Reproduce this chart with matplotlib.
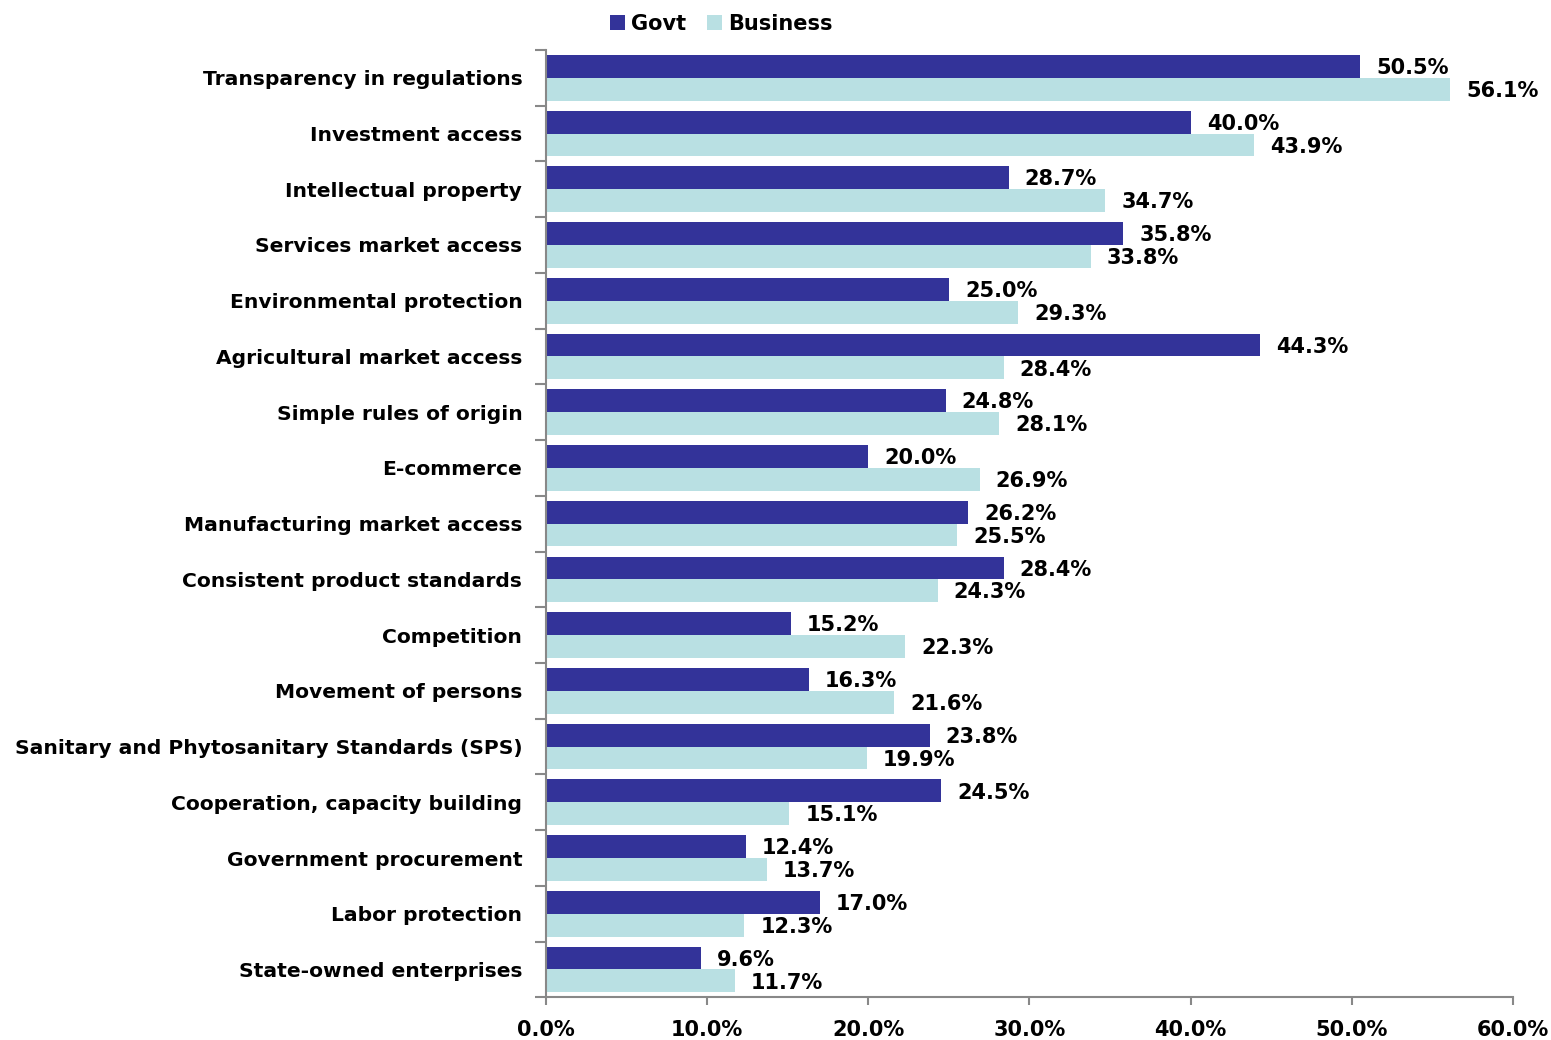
import numpy as np
import matplotlib.pyplot as plt
from matplotlib.ticker import FuncFormatter, FixedLocator

plt.rcParams['font.family'] = ['DejaVu Sans']
plt.rcParams['font.weight'] = 'bold'

categories = ["Transparency in regulations", "Investment access", "Intellectual property",
              "Services market access", "Environmental protection", "Agricultural market access",
              "Simple rules of origin", "E-commerce", "Manufacturing market access",
              "Consistent product standards", "Competition", "Movement of persons",
              "Sanitary and Phytosanitary Standards (SPS)", "Cooperation, capacity building",
              "Government procurement", "Labor protection", "State-owned enterprises"]
govt = [50.5, 40.0, 28.7, 35.8, 25.0, 44.3, 24.8, 20.0, 26.2, 28.4, 15.2, 16.3, 23.8, 24.5, 12.4, 17.0, 9.6]
business = [56.1, 43.9, 34.7, 33.8, 29.3, 28.4, 28.1, 26.9, 25.5, 24.3, 22.3, 21.6, 19.9, 15.1, 13.7, 12.3, 11.7]

govt_color = '#333399'
bus_color = '#B9E0E3'
fs = 15

fig = plt.figure(figsize=(15.51, 10.40), dpi=100)
ax = fig.add_axes([0.352, 0.041, 0.6235, 0.911])

y = np.arange(len(categories))
h = 0.41
ax.barh(y - h / 2, govt, height=h, color=govt_color, label='Govt')
ax.barh(y + h / 2, business, height=h, color=bus_color, label='Business')

for i in range(len(categories)):
    ax.text(govt[i] + 1.0, y[i] - h / 2 + 0.03, f"{govt[i]:.1f}%", va='center', ha='left',
            fontsize=fs, fontweight='bold')
    ax.text(business[i] + 1.0, y[i] + h / 2 + 0.03, f"{business[i]:.1f}%", va='center', ha='left',
            fontsize=fs, fontweight='bold')

ax.set_xlim(0, 60)
ax.set_ylim(len(categories) - 0.5, -0.5)
ax.set_xticks(np.arange(0, 61, 10))
ax.xaxis.set_major_formatter(FuncFormatter(lambda v, p: f"{v:.1f}%"))
ax.set_yticks(y)
ax.set_yticklabels(categories, fontsize=14.6, fontweight='bold')
for lbl in ax.get_xticklabels():
    lbl.set_fontsize(fs)
    lbl.set_fontweight('bold')
ax.tick_params(axis='y', length=0, pad=17)
ax.yaxis.set_minor_locator(FixedLocator(np.arange(-0.5, len(categories), 1)))
ax.tick_params(axis='y', which='minor', length=8, color='#888888', width=1.5)
ax.tick_params(axis='x', length=6, color='#888888', width=1.5, pad=10)

for s in ['top', 'right']:
    ax.spines[s].set_visible(False)
for s in ['left', 'bottom']:
    ax.spines[s].set_color('#888888')
    ax.spines[s].set_linewidth(1.5)

fig.legend(loc='upper center', bbox_to_anchor=(0.465, 1.005), ncol=2, frameon=False,
           prop={'size': fs, 'weight': 'bold'}, handlelength=0.7, handleheight=0.7,
           handletextpad=0.3, columnspacing=1.0)

fig.savefig('out.png', dpi=100)
